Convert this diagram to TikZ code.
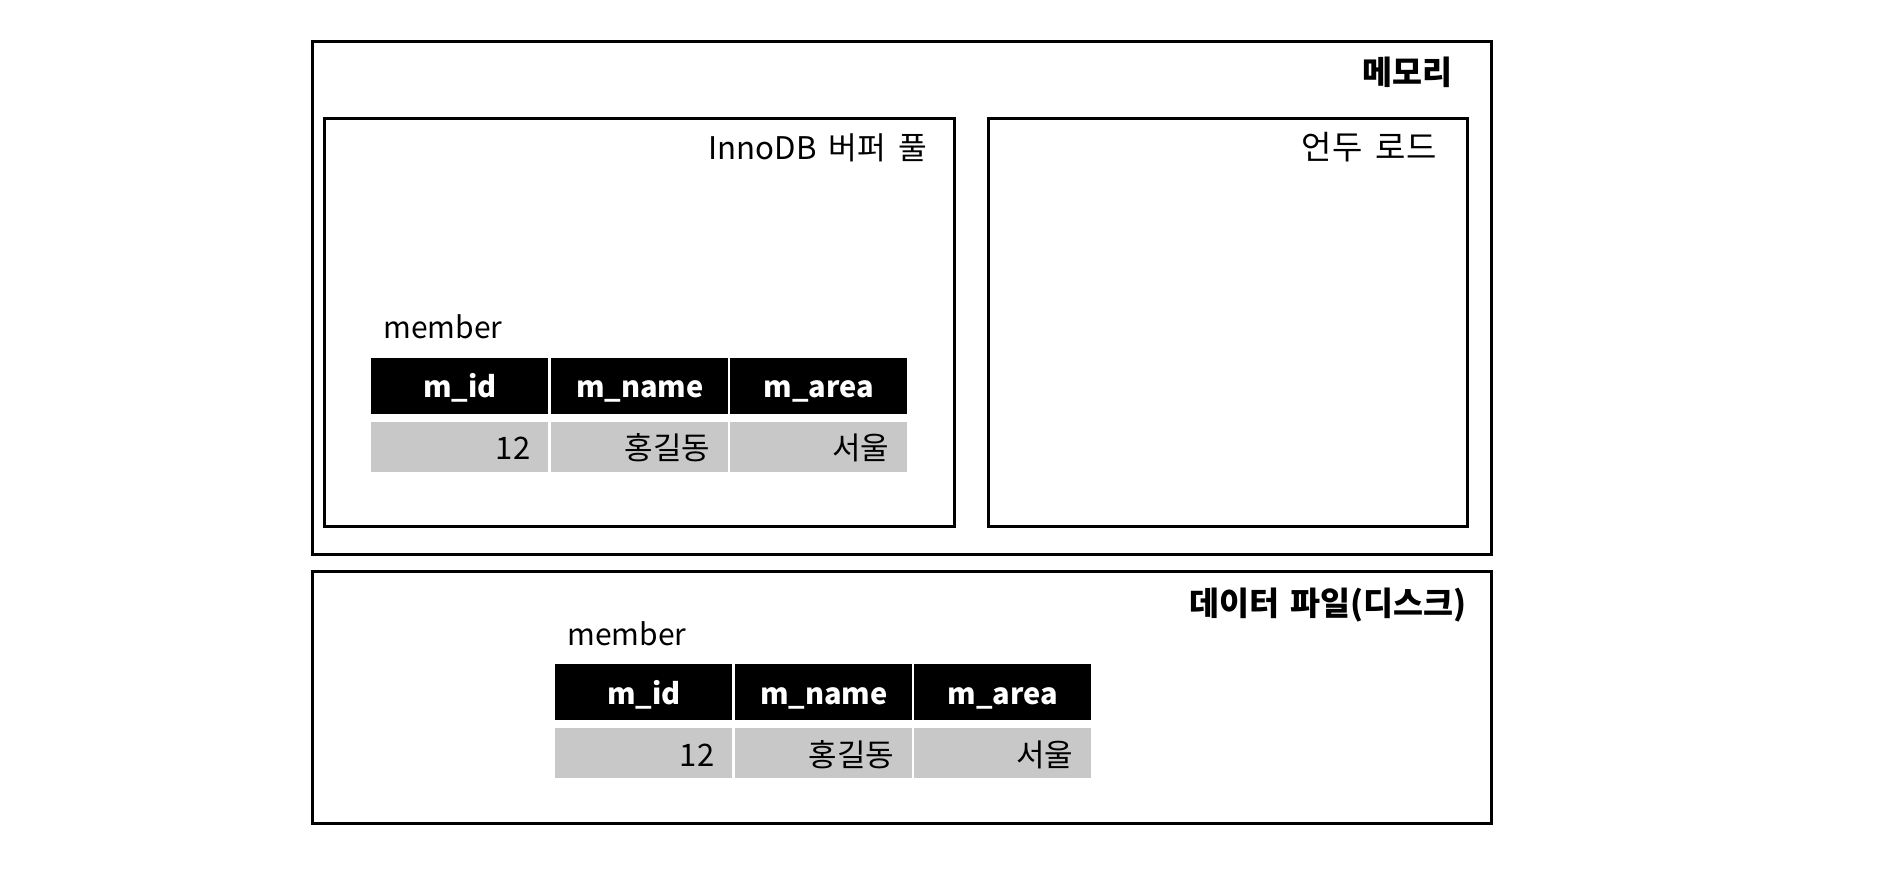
\documentclass[tikz,border=0pt]{standalone}
\usepackage{fontspec}
\setmainfont{Noto Sans CJK KR}
\usetikzlibrary{fit}
\definecolor{cellgray}{RGB}{200,200,200}
\newcommand\mywidespace[1]{\spaceskip=#1\relax}
\tikzset{
  box/.style={draw=black, line width=1.5pt, inner sep=0pt},
  hdr/.style={fill=black, text=white, font=\bfseries\fontsize{14.5}{16}\selectfont,
    minimum width=88.5pt, minimum height=28pt, text height=20pt, text depth=8pt,
    inner sep=0pt, anchor=north west},
  dat/.style={fill=cellgray, text=black, font=\fontsize{15.5}{17}\selectfont,
    minimum height=25pt, text height=19pt, text depth=6pt, text width=70.5pt,
    align=right, inner xsep=9pt, inner ysep=0pt, anchor=north west},
  title/.style={font=\bfseries\fontsize{16.3}{19}\selectfont,
    inner sep=0pt, anchor=base east},
  label/.style={font=\fontsize{16.5}{19}\selectfont,
    inner sep=0pt, anchor=base east},
  tname/.style={font=\fontsize{15}{18}\selectfont, inner sep=0pt, anchor=base west},
  pics/memtable/.style={code={
    \node[tname] (name) at (12,-18.5) {member};
    \node[hdr] (h1) at (0,0) {m\_id};
    \node[hdr] (h2) at (180,0) {m\_name};
    \node[hdr] (h3) at (359,0) {m\_area};
    \node[dat] (d1) at (0,64) {12};
    \node[dat] (d2) at (180,64) {홍길동};
    \node[dat] (d3) at (359,64) {서울};
  }}
}
\begin{document}
\begin{tikzpicture}[x=0.5pt, y=-0.5pt]
\useasboundingbox[fill=white] (0,0) rectangle (1884,876);
% memory
\node[box, fit={(312,42) (1491,555)}] (mem) {};
\node[title] (memt) at (1453,85) {메모리};
% buffer pool
\node[box, fit={(324,119) (954,527)}] (pool) {};
\node[label, font=\fontsize{15.6}{19}\selectfont] (poolt) at (928,160) {\mywidespace{0.4em}InnoDB 버퍼 풀};
% undo log
\node[box, fit={(988,119) (1467,527)}] (undo) {};
\node[label] (undot) at (1437,160) {\mywidespace{0.4em}언두 로드};
% data file
\node[box, fit={(312,572) (1491,823)}] (disk) {};
\node[title] (diskt) at (1467,615) {\mywidespace{0.35em}데이터 파일(디스크)};
% tables
\pic (ta) at (371,357.5) {memtable};
\pic (tb) at (555,664) {memtable};
\end{tikzpicture}
\end{document}
